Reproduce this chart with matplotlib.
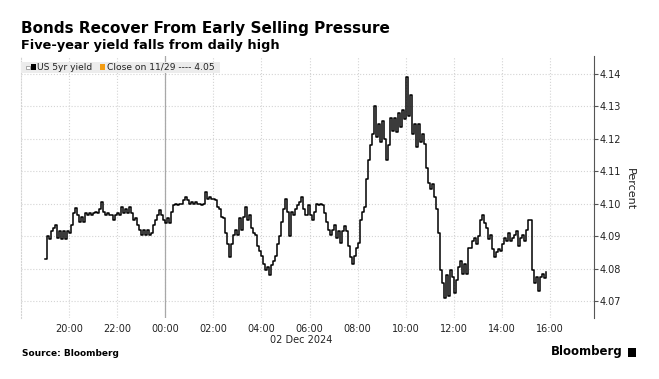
# Bonds Recover From Early Selling Pressure - US 5yr yield, 5 minute steps

import matplotlib
matplotlib.use("Agg")
import matplotlib.pyplot as plt
import matplotlib.dates as mdates
from matplotlib.patches import Rectangle
import pandas as pd

# data: US 5yr yield, every 5 minutes from 19:00 (Dec 1) to 15:50 (Dec 2)
evening = [  # 19:00 - 23:55
    4.083, 4.090, 4.089, 4.0915, 4.0925, 4.0935, 4.0895, 4.0915, 4.089, 4.0915, 4.089, 4.0915,
    4.091, 4.0935, 4.097, 4.0988, 4.0965, 4.0945, 4.096, 4.0945, 4.097, 4.0965, 4.097, 4.0965,
    4.097, 4.0975, 4.097, 4.0985, 4.1005, 4.0975, 4.0965, 4.097, 4.0965, 4.0965, 4.095, 4.0965,
    4.097, 4.0965, 4.099, 4.097, 4.0985, 4.097, 4.099, 4.097, 4.095, 4.0955, 4.0935, 4.092,
    4.0905, 4.092, 4.0905, 4.092, 4.0905, 4.091, 4.0935, 4.095, 4.0965, 4.098, 4.0965, 4.095,
]
overnight = [  # 00:00 - 05:55
    4.094, 4.0955, 4.094, 4.0975, 4.0995, 4.100, 4.0995, 4.100, 4.100, 4.101, 4.102, 4.101,
    4.100, 4.1005, 4.100, 4.1005, 4.100, 4.100, 4.0995, 4.100, 4.1037, 4.1015, 4.102, 4.1015,
    4.1015, 4.101, 4.099, 4.0985, 4.096, 4.0955, 4.091, 4.0875, 4.0835, 4.0875, 4.0905, 4.092,
    4.0905, 4.0955, 4.092, 4.096, 4.099, 4.095, 4.0965, 4.0925, 4.091, 4.0905, 4.087, 4.0855,
    4.084, 4.0815, 4.0795, 4.0805, 4.078, 4.081, 4.0825, 4.084, 4.0875, 4.090, 4.0945, 4.0985,
    4.1015, 4.0975, 4.090, 4.0975, 4.0965, 4.0985, 4.0995, 4.1005, 4.102, 4.0985, 4.0965, 4.0995,
]
morning = [  # 06:00 - 10:55
    4.0965, 4.095, 4.0975, 4.100, 4.0995, 4.100, 4.0995, 4.097, 4.0945, 4.092, 4.0905, 4.092,
    4.0935, 4.0895, 4.0915, 4.088, 4.0915, 4.093, 4.0915, 4.087, 4.0835, 4.0815, 4.084, 4.0865,
    4.088, 4.095, 4.0975, 4.099, 4.1075, 4.1135, 4.118, 4.1215, 4.130, 4.1205, 4.1245, 4.119,
    4.1255, 4.120, 4.1135, 4.118, 4.1265, 4.1225, 4.1265, 4.122, 4.128, 4.1235, 4.129, 4.126,
    4.139, 4.127, 4.1335, 4.1215, 4.1245, 4.1175, 4.1245, 4.119, 4.1215, 4.1185, 4.111, 4.1065,
]
afternoon = [  # 11:00 - 15:50
    4.1045, 4.106, 4.102, 4.0985, 4.091, 4.0795, 4.0755, 4.071, 4.078, 4.0715, 4.0795, 4.0775,
    4.0725, 4.0765, 4.0805, 4.0825, 4.0785, 4.0815, 4.0785, 4.0865, 4.0865, 4.0885, 4.0895, 4.0875,
    4.090, 4.095, 4.0965, 4.094, 4.0925, 4.089, 4.0905, 4.086, 4.0835, 4.085, 4.086, 4.0855,
    4.0875, 4.0895, 4.0885, 4.091, 4.0885, 4.0895, 4.0905, 4.0915, 4.087, 4.0895, 4.0905, 4.0885,
    4.092, 4.095, 4.095, 4.0795, 4.0755, 4.0775, 4.073, 4.0775, 4.0785, 4.077, 4.079,
]
yields = evening + overnight + morning + afternoon
times = pd.date_range("2024-12-01 19:00", periods=len(yields), freq="5min")

y_ticks = [4.07, 4.08, 4.09, 4.10, 4.11, 4.12, 4.13, 4.14]
x_ticks = pd.date_range("2024-12-01 20:00", "2024-12-02 16:00", freq="2h")

W, H = 659, 379
fig = plt.figure(figsize=(W / 100, H / 100), dpi=100)
ax = fig.add_axes([21 / W, 1 - 318 / H, (594 - 21) / W, (318 - 56) / H])

ax.plot(times, yields, color="black", lw=1.1, drawstyle="steps-post", zorder=3)
ax.axvline(pd.Timestamp("2024-12-02 00:00"), color="#a8a8a8", lw=0.9, zorder=2)

ax.set_xlim(pd.Timestamp("2024-12-01 18:00"), pd.Timestamp("2024-12-02 17:50"))
ax.set_ylim(4.0648, 4.1455)
ax.set_xticks(x_ticks)
ax.xaxis.set_major_formatter(mdates.DateFormatter("%H:%M"))
ax.set_yticks(y_ticks)
ax.yaxis.set_major_formatter(plt.FormatStrFormatter("%.2f"))
ax.yaxis.tick_right()

ax.grid(color="#d4d4d4", linestyle=":", linewidth=0.8)
for s in ["top", "bottom"]:
    ax.spines[s].set_visible(False)
ax.spines["left"].set_color("#d4d4d4")
ax.spines["left"].set_linestyle(":")
ax.spines["right"].set_color("#555555")
ax.spines["right"].set_linewidth(0.8)
ax.tick_params(axis="x", length=0, pad=4, labelsize=7, colors="#222222")
ax.tick_params(axis="y", length=3, width=0.8, color="#555555", pad=1, labelsize=7, labelcolor="#222222")

fig.text(301 / W, 1 - 340 / H, "02 Dec 2024", ha="center", va="center", fontsize=7, color="#222222")
fig.text(630 / W, 1 - 189 / H, "Percent", rotation=270, ha="center", va="center", fontsize=8, color="#222222")

# titles
fig.text(21 / W, 1 - 33 / H, "Bonds Recover From Early Selling Pressure", fontsize=11, weight="bold", va="baseline")
fig.text(21 / W, 1 - 49 / H, "Five-year yield falls from daily high", fontsize=9.3, weight="bold", va="baseline")

# legend strip
def px_rect(x0, y0, x1, y1, **kw):
    fig.add_artist(Rectangle((x0 / W, 1 - y1 / H), (x1 - x0) / W, (y1 - y0) / H,
                             transform=fig.transFigure, **kw))

px_rect(21, 62, 220, 73, facecolor="#ececec", edgecolor="none")
px_rect(26, 65.5, 29.5, 69, facecolor="white", edgecolor="#888888", lw=0.5)
px_rect(31, 64.5, 35.5, 70, facecolor="black", edgecolor="none")
px_rect(100, 64.5, 105, 70, facecolor="#f39c12", edgecolor="none")
fig.text(37 / W, 1 - 67.5 / H, "US 5yr yield", fontsize=6.6, va="center", color="#222222")
fig.text(107 / W, 1 - 67.5 / H, "Close on 11/29 ---- 4.05", fontsize=6.6, va="center", color="#222222")

# footer
fig.text(22 / W, 1 - 353 / H, "Source: Bloomberg", fontsize=6.5, weight="bold", va="center")
fig.text(623 / W, 1 - 352 / H, "Bloomberg", fontsize=8.5, weight="bold", ha="right", va="center")
px_rect(628, 348, 636, 357, facecolor="black", edgecolor="none")

plt.savefig("out.png", dpi=100)
